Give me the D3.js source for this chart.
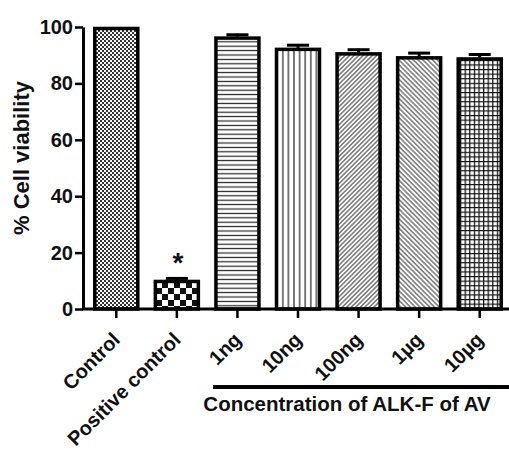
<!DOCTYPE html>
<html>
<head>
<meta charset="utf-8">
<script src="https://cdn.jsdelivr.net/npm/d3@7"></script>
<style>
  body { margin: 0; background: #fff; }
  text { font-family: "Liberation Sans", Arial, sans-serif; font-weight: bold; fill: #111; }
</style>
</head>
<body>
<script>
'use strict';

// chart values
const categories = ["Control", "Positive control", "1ng", "10ng", "100ng", "1\u00b5g", "10\u00b5g"];
const viability = [100, 10.3, 96.6, 92.6, 91.0, 89.6, 89.2];
const errors = [0, 0.9, 1.0, 1.3, 1.3, 1.5, 1.4];
const yTicks = [0, 20, 40, 60, 80, 100];
const groupLabel = "Concentration of ALK-F of AV";

(function() {
  const width = 509, height = 450;
  const svg = d3.select('body').append('svg')
    .attr('width', width)
    .attr('height', height);

  // hatch patterns, one per bar
  const defs = svg.append('defs');

  function checker(id, size, color) {
    let p = defs.append('pattern').attr('id', id)
      .attr('patternUnits', 'userSpaceOnUse')
      .attr('width', size * 2).attr('height', size * 2);
    p.append('rect').attr('width', size * 2).attr('height', size * 2).attr('fill', '#fff');
    p.append('rect').attr('width', size).attr('height', size).attr('fill', color);
    p.append('rect').attr('x', size).attr('y', size).attr('width', size).attr('height', size).attr('fill', color);
  }
  function lines(id, period, angle, color, w) {
    let p = defs.append('pattern').attr('id', id)
      .attr('patternUnits', 'userSpaceOnUse')
      .attr('width', period).attr('height', period)
      .attr('patternTransform', 'rotate(' + angle + ')');
    p.append('rect').attr('width', period).attr('height', period).attr('fill', '#fff');
    p.append('line').attr('x1', 0).attr('y1', period / 2).attr('x2', period).attr('y2', period / 2)
      .attr('stroke', color).attr('stroke-width', w);
  }
  function grid(id, period, color) {
    let p = defs.append('pattern').attr('id', id)
      .attr('patternUnits', 'userSpaceOnUse')
      .attr('width', period).attr('height', period);
    p.append('rect').attr('width', period).attr('height', period).attr('fill', '#fff');
    p.append('path').attr('d', 'M0,0.6H' + period + 'M0.6,0V' + period)
      .attr('stroke', color).attr('stroke-width', 1.3);
  }

  checker('p0', 2, '#333');
  checker('p1', 6, '#111');
  lines('p2', 4.4, 0, '#222', 1.2);
  lines('p3', 5.6, 90, '#222', 1.2);
  lines('p4', 3.2, -45, '#444', 1.1);
  lines('p5', 3.4, 45, '#444', 1.1);
  grid('p6', 4.6, '#111');

  // scales
  const x = d3.scaleBand()
    .domain(categories)
    .range([86, 510])
    .paddingInner(0.29)
    .paddingOuter(0.145);

  const y = d3.scaleLinear()
    .domain([0, 100])
    .range([309, 27]);

  // bars
  svg.selectAll('.bar')
    .data(categories)
    .enter()
    .append('rect')
      .attr('class', 'bar')
      .attr('x', d => x(d))
      .attr('y', (d, i) => y(viability[i]) + 1.5)
      .attr('width', x.bandwidth())
      .attr('height', (d, i) => y(0) - y(viability[i]) - 1.5)
      .attr('fill', (d, i) => 'url(#p' + i + ')')
      .attr('stroke', '#000')
      .attr('stroke-width', 3.5);

  // error bars (upper only)
  const errG = svg.append('g');
  categories.forEach((c, i) => {
    if (!errors[i]) return;
    let cx = x(c) + x.bandwidth() / 2;
    errG.append('line')
      .attr('x1', cx).attr('x2', cx)
      .attr('y1', y(viability[i])).attr('y2', y(viability[i] + errors[i]))
      .attr('stroke', '#000').attr('stroke-width', 3);
    errG.append('line')
      .attr('x1', cx - 11).attr('x2', cx + 11)
      .attr('y1', y(viability[i] + errors[i]) + 1).attr('y2', y(viability[i] + errors[i]) + 1)
      .attr('stroke', '#000').attr('stroke-width', 3);
  });

  // y axis
  const yAxis = svg.append('g')
    .attr('transform', 'translate(83,0)')
    .call(d3.axisLeft(y).tickValues(yTicks).tickSize(8).tickPadding(2).tickSizeOuter(0));
  yAxis.select('.domain').attr('stroke-width', 3);
  yAxis.selectAll('.tick line').attr('stroke-width', 2.5);
  yAxis.selectAll('.tick text')
    .style('font-size', '20px')
    .style('font-family', '"Liberation Sans", Arial, sans-serif')
    .style('font-weight', 'bold')
    .attr('fill', '#111');

  // x axis
  const xAxis = svg.append('g')
    .attr('transform', 'translate(0,309)')
    .call(d3.axisBottom(x).tickSize(9).tickSizeOuter(0).tickFormat(''));
  xAxis.select('.domain').remove();
  xAxis.selectAll('.tick line').attr('stroke-width', 2.5);
  svg.append('line')
    .attr('x1', 82).attr('x2', 509)
    .attr('y1', 309).attr('y2', 309)
    .attr('stroke', '#000').attr('stroke-width', 3);

  // rotated category labels
  svg.selectAll('.xlabel')
    .data(categories)
    .enter()
    .append('text')
      .attr('class', 'xlabel')
      .attr('text-anchor', 'end')
      .attr('transform', d => 'translate(' + (x(d) + x.bandwidth() / 2 + 5) + ',341)rotate(-45)')
      .style('font-size', '20px')
      .text(d => d);

  // significance mark
  svg.append('text')
    .attr('x', x(categories[1]) + x.bandwidth() / 2 + 1)
    .attr('y', y(viability[1] + errors[1]) - 5)
    .attr('text-anchor', 'middle')
    .style('font-size', '28px')
    .text('*');

  // group bracket and label
  svg.append('line')
    .attr('x1', 213).attr('x2', 509)
    .attr('y1', 387).attr('y2', 387)
    .attr('stroke', '#000').attr('stroke-width', 4);
  svg.append('text')
    .attr('x', 347)
    .attr('y', 411)
    .attr('text-anchor', 'middle')
    .style('font-size', '20.5px')
    .text(groupLabel);

  // y axis title
  svg.append('text')
    .attr('transform', 'translate(29,158)rotate(-90)')
    .attr('text-anchor', 'middle')
    .style('font-size', '22px')
    .text('% Cell viability');
})();
</script>
</body>
</html>
